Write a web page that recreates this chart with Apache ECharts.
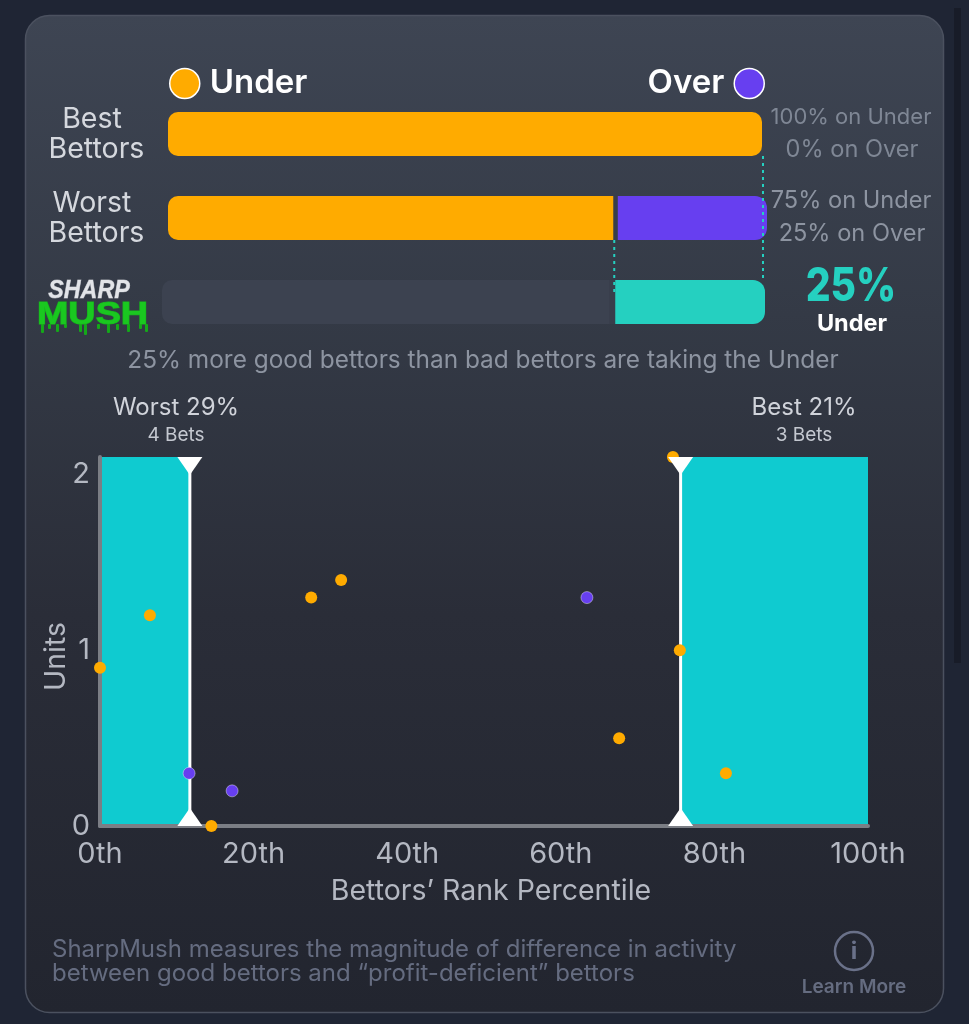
<!DOCTYPE html>
<html>
<head>
<meta charset="utf-8">
<title>SharpMush</title>
<script src="https://cdn.jsdelivr.net/npm/echarts@6/dist/echarts.min.js"></script>
<style>
html, body { margin: 0; padding: 0; background: #1f2534; }
#main { width: 969px; height: 1024px; }
</style>
</head>
<body>
<div id="main"></div>
<script>
// split of the money per group, in percent
var bestSplit = [100, 0];
var worstSplit = [75, 25];
var mushSplit = [75, 25];

// bettors scatter: [rank percentile, units]
var underBets = [[0, 0.9], [6.5, 1.2], [14.5, 0], [27.5, 1.3], [31.4, 1.4], [67.6, 0.5], [74.6, 2.1], [75.5, 1.0], [81.5, 0.3]];
var overBets = [[11.6, 0.3], [17.2, 0.2], [63.4, 1.3]];

// where the worst and best bands end
var worstCut = 11.7;
var bestCut = 75.6;
var rankTicks = ['0th', '20th', '40th', '60th', '80th', '100th'];
var unitTicks = [0, 1, 2];
var unitsMax = 2.1;

var ORANGE = '#ffab00', PURPLE = '#673ff0', TEAL = '#25d0c0', BAND = '#0fcbd0';
var FONT = 'Inter';

var dom = document.getElementById('main');
var myChart = echarts.init(dom);

function txt(x, y, text, size, color, align, weight) {
    return {
        type: 'text', x: x, y: y + 1, z: 5,
        style: {
            text: text, fontSize: size, fill: color, fontFamily: FONT,
            fontWeight: weight || 'normal', align: align || 'center', verticalAlign: 'middle'
        }
    };
}

// hidden axes for the three split bars
function barGrid(left, right, top) {
    return { left: left, width: right - left, top: top, height: 44 };
}
function hiddenX(i) {
    return { gridIndex: i, type: 'value', min: 0, max: 100, show: false };
}
function hiddenY(i) {
    return { gridIndex: i, type: 'category', data: ['a'], show: false };
}
function bar(name, i, value, color, radius) {
    return {
        name: name, type: 'bar', xAxisIndex: i, yAxisIndex: i, stack: 's' + i,
        data: [value], barWidth: 44, silent: true,
        itemStyle: { color: color, borderRadius: radius }
    };
}

var drips = [];
var dripX = [41, 48, 56, 64, 79, 84, 97, 107, 116, 127, 139, 145];
var dripLen = [9, 5, 8, 4, 8, 11, 5, 9, 6, 8, 5, 8];
dripX.forEach(function (x, i) {
    drips.push({
        type: 'rect', z: 5,
        shape: { x: x, y: 324, width: 3, height: dripLen[i], r: 1 },
        style: { fill: '#14a819' }
    });
});

var big25 = txt(851, 286, '25%', 46, TEAL, 'center', 800);
big25.scaleX = 0.85;

var staticGraphic = [
    { type: 'rect', z: 0, silent: true, shape: { x: 954, y: 8, width: 7, height: 655 }, style: { fill: '#181c28' } },
    {
        type: 'rect', z: 0, silent: true,
        shape: { x: 25.5, y: 15.5, width: 918, height: 997, r: 24 },
        style: {
            stroke: '#4b515f', lineWidth: 1.5,
            fill: {
                type: 'linear', x: 0, y: 0, x2: 0, y2: 1,
                colorStops: [
                    { offset: 0, color: '#3e4553' },
                    { offset: 0.3, color: '#343a46' },
                    { offset: 0.6, color: '#2a2d38' },
                    { offset: 1, color: '#22252f' }
                ]
            }
        }
    },
    txt(92, 118, 'Best', 28.5, '#d5d8de'),
    txt(96.5, 148, 'Bettors', 28.5, '#d5d8de'),
    txt(92, 202, 'Worst', 28.5, '#d5d8de'),
    txt(96.5, 232, 'Bettors', 28.5, '#d5d8de'),
    txt(851, 116, '100% on Under', 22, '#7f8795'),
    txt(852, 149, '0% on Over', 23.6, '#7f8795'),
    txt(851, 200, '75% on Under', 23.6, '#8d94a1'),
    txt(852, 233, '25% on Over', 23.6, '#8d94a1'),
    big25,
    txt(852, 323, 'Under', 23.5, '#ffffff', 'center', 'bold'),
    txt(483, 360, '25% more good bettors than bad bettors are taking the Under', 24.4, '#8d94a1'),
    txt(176, 407, 'Worst 29%', 24, '#d0d3da'),
    txt(176, 434, '4 Bets', 19, '#c4c8d0'),
    txt(804, 407, 'Best 21%', 24, '#d0d3da'),
    txt(804, 434, '3 Bets', 19, '#c4c8d0'),
    txt(52, 949, 'SharpMush measures the magnitude of difference in activity', 24, '#656c80', 'left'),
    txt(52, 973, 'between good bettors and \u201cprofit-deficient\u201d bettors', 24, '#656c80', 'left'),
    {
        type: 'circle', z: 5,
        shape: { cx: 854, cy: 951, r: 19 },
        style: { fill: 'none', stroke: '#6a7189', lineWidth: 2.5 }
    },
    txt(854, 951, 'i', 24, '#6a7189', 'center', 'bold'),
    txt(854, 986, 'Learn More', 19, '#656c80', 'center', 600),
    // logo
    {
        type: 'text', z: 6, x: 89, y: 291, scaleX: 0.93,
        style: {
            text: 'SHARP', fontSize: 25, fontStyle: 'italic', fontWeight: 900, fontFamily: 'Liberation Sans',
            align: 'center', verticalAlign: 'middle', stroke: '#9a9ea6', lineWidth: 0.8, fill: '#e2e4e8'
        }
    },
    {
        type: 'text', z: 6, x: 92.5, y: 315, scaleX: 1.18,
        style: {
            text: 'MUSH', fontSize: 32, fontWeight: 900, fontFamily: 'Liberation Sans',
            align: 'center', verticalAlign: 'middle', stroke: '#15b81b', lineWidth: 1.2, fill: '#1ac820'
        }
    }
].concat(drips);

var option = {
    backgroundColor: '#1f2534',
    animation: false,
    legend: [
        {
            data: ['Under'], left: 164, top: 62, icon: 'circle',
            itemWidth: 30, itemHeight: 30, selectedMode: false,
            itemStyle: { borderColor: '#ffffff', borderWidth: 1.5 },
            textStyle: { color: '#ffffff', fontSize: 33, fontWeight: 600, fontFamily: FONT, padding: [0, 0, 0, 5] }
        },
        {
            data: ['Over'], right: 199, top: 62, icon: 'circle', align: 'right',
            itemWidth: 30, itemHeight: 30, selectedMode: false,
            itemStyle: { borderColor: '#ffffff', borderWidth: 1.5 },
            textStyle: { color: '#ffffff', fontSize: 33, fontWeight: 600, fontFamily: FONT, padding: [0, 5, 0, 0] }
        }
    ],
    grid: [
        barGrid(168, 762, 112),
        barGrid(168, 767, 196),
        barGrid(162, 765, 280),
        { left: 100, width: 768, top: 457, height: 369 }
    ],
    xAxis: [
        hiddenX(0), hiddenX(1), hiddenX(2),
        {
            gridIndex: 3, type: 'value', min: 0, max: 100, interval: 20, z: 3,
            name: 'Bettors\u2019 Rank Percentile', nameLocation: 'middle', nameGap: 51,
            nameTextStyle: { color: '#b4b8c2', fontSize: 28.5, fontFamily: FONT, padding: [0, 0, 0, 14] },
            axisLine: { show: true, lineStyle: { color: '#7b7e85', width: 4 } },
            axisTick: { show: false }, splitLine: { show: false },
            axisLabel: {
                color: '#b4b8c2', fontSize: 29, fontFamily: FONT, margin: 14,
                formatter: function (v) { return rankTicks[v / 20]; }
            }
        }
    ],
    yAxis: [
        hiddenY(0), hiddenY(1), hiddenY(2),
        {
            gridIndex: 3, type: 'value', min: 0, max: unitsMax, interval: 1, z: 3,
            name: 'Units', nameLocation: 'middle', nameGap: 29, nameMoveOverlap: false,
            nameTextStyle: { color: '#b4b8c2', fontSize: 28.5, fontFamily: FONT, padding: [0, 30, 0, 0] },
            axisLine: { show: true, lineStyle: { color: '#7b7e85', width: 4 } },
            axisTick: { show: false }, splitLine: { show: false },
            axisLabel: {
                color: '#b4b8c2', fontSize: 29, fontFamily: FONT, margin: 10, padding: [4, 0, 0, 0],
                formatter: function (v) { return unitTicks.indexOf(v) >= 0 ? v : ''; }
            }
        }
    ],
    series: [
        bar('Under', 0, bestSplit[0], ORANGE, 10),
        bar('Under', 1, worstSplit[0], ORANGE, [10, 0, 0, 10]),
        bar('Over', 1, worstSplit[1], PURPLE, [0, 12, 12, 0]),
        bar('gap', 2, mushSplit[0], '#3c4250', [10, 0, 0, 10]),
        bar('mush', 2, mushSplit[1], TEAL, [0, 12, 12, 0]),
        {
            name: 'Under', type: 'scatter', xAxisIndex: 3, yAxisIndex: 3, z: 6,
            data: underBets, symbolSize: 12, clip: false, silent: true,
            itemStyle: { color: ORANGE, opacity: 1 },
            markArea: {
                silent: true,
                itemStyle: { color: BAND, opacity: 1 },
                data: [
                    [{ coord: [0, 0] }, { coord: [worstCut, unitsMax] }],
                    [{ coord: [bestCut, 0] }, { coord: [100, unitsMax] }]
                ]
            }
        },
        {
            name: 'Over', type: 'scatter', xAxisIndex: 3, yAxisIndex: 3, z: 6,
            data: overBets, symbolSize: 12, clip: false, silent: true,
            itemStyle: { color: PURPLE, opacity: 1, borderColor: 'rgba(255,255,255,0.4)', borderWidth: 1 }
        },
        {
            name: 'cutLine', type: 'line', xAxisIndex: 3, yAxisIndex: 3, z: 4, silent: true,
            symbol: 'none', lineStyle: { color: '#ffffff', width: 3 },
            data: [[worstCut, 0], [worstCut, unitsMax], null, [bestCut, unitsMax], [bestCut, 0]]
        },
        {
            name: 'cutTop', type: 'scatter', xAxisIndex: 3, yAxisIndex: 3, z: 7, silent: true, clip: false,
            symbol: 'triangle', symbolRotate: 180, symbolSize: [25, 18], symbolOffset: [0, '50%'],
            itemStyle: { color: '#ffffff', opacity: 1 },
            data: [[worstCut, unitsMax], [bestCut, unitsMax]]
        },
        {
            name: 'cutBottom', type: 'scatter', xAxisIndex: 3, yAxisIndex: 3, z: 7, silent: true, clip: false,
            symbol: 'triangle', symbolSize: [25, 18], symbolOffset: [0, '-50%'],
            itemStyle: { color: '#ffffff', opacity: 1 },
            data: [[worstCut, 0], [bestCut, 0]]
        }
    ],
    graphic: staticGraphic
};

myChart.setOption(option);

// dotted connectors and the small gaps follow the bar ends
var endBest = myChart.convertToPixel({ gridIndex: 0 }, [bestSplit[0], 'a']);
var splitWorst = myChart.convertToPixel({ gridIndex: 1 }, [worstSplit[0], 'a']);
var splitMush = myChart.convertToPixel({ gridIndex: 2 }, [mushSplit[0], 'a']);
function dotted(x, y1, y2) {
    return {
        type: 'line', z: 5, silent: true,
        shape: { x1: x, y1: y1, x2: x, y2: y2 },
        style: { stroke: TEAL, lineWidth: 2, lineDash: [3, 4] }
    };
}
function gapRect(x, w, y) {
    return { type: 'rect', z: 4, silent: true, shape: { x: x, y: y, width: w, height: 44 }, style: { fill: '#383e4b' } };
}
myChart.setOption({
    graphic: staticGraphic.concat([
        gapRect(splitWorst[0] - 4, 4.5, 196),
        gapRect(splitMush[0] - 5, 6, 280),
        dotted(endBest[0] + 1, 156, 280),
        dotted(splitMush[0], 240, 295)
    ])
});
window.onresize = myChart.resize;
</script>
</body>
</html>
